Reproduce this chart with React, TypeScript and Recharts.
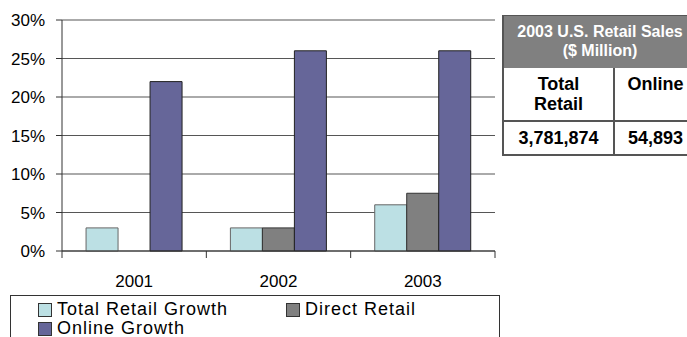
import React from 'react';
import { BarChart, Bar, XAxis, YAxis, CartesianGrid, Legend } from 'recharts';

const years = ['2001', '2002', '2003'];
const totalRetailGrowth = [3, 3, 6];
const directRetail: (number | null)[] = [null, 3, 7.5];
const onlineGrowth = [22, 26, 26];
const yTicks = [0, 5, 10, 15, 20, 25, 30];

const seriesNames = ['Total Retail Growth', 'Direct Retail', 'Online Growth'];
const seriesColors = ['#BCE0E4', '#808080', '#666699'];

const tableTitle = ['2003 U.S. Retail Sales', '($ Million)'];
const tableColumns = [['Total', 'Retail'], ['Online']];
const tableValues = ['3,781,874', '54,893'];

const data = years.map((y, i) => ({
  year: y,
  total: totalRetailGrowth[i],
  direct: directRetail[i],
  online: onlineGrowth[i],
}));

const FONT = '"Liberation Sans", Arial, sans-serif';

const XTick = (props: any) => {
  const { x, y, payload, index, visibleTicksCount } = props;
  const off = payload && payload.offset ? payload.offset : 72;
  const last = index === (visibleTicksCount ? visibleTicksCount - 1 : years.length - 1);
  return (
    <g>
      <line x1={x - off} y1={y} x2={x - off} y2={y + 7} stroke="#333" />
      {last && <line x1={x + off} y1={y} x2={x + off} y2={y + 7} stroke="#333" />}
      <text x={x} y={y + 36} textAnchor="middle" fontSize={17} fontFamily={FONT} fill="#000">
        {payload.value}
      </text>
    </g>
  );
};

const LegendContent = () => (
  <div
    style={{
      width: 490,
      height: 50,
      border: '1px solid #333',
      boxSizing: 'border-box',
      paddingLeft: 27,
      paddingTop: 4,
      display: 'grid',
      gridTemplateColumns: '248px 200px',
      gridAutoRows: '19px',
      fontFamily: FONT,
      fontSize: 18,
      letterSpacing: 1,
      color: '#000',
      background: '#fff',
    }}
  >
    {seriesNames.map((n, i) => (
      <div key={n} style={{ display: 'flex', alignItems: 'center', whiteSpace: 'nowrap', lineHeight: '19px', height: 19 }}>
        <span
          style={{
            display: 'inline-block',
            width: 12,
            height: 12,
            background: seriesColors[i],
            border: '1px solid #333',
            marginRight: 5,
          }}
        />
        {n}
      </div>
    ))}
  </div>
);

const cellBorder = '2px solid #555';

export default function App() {
  return (
    <div style={{ position: 'absolute', left: 0, top: 0, width: 687, height: 337, overflow: 'hidden', background: '#fff' }}>
      <BarChart
        width={687}
        height={337}
        data={data}
        margin={{ top: 20, right: 192, bottom: 56, left: 0 }}
        barCategoryGap="16.67%"
        barGap={0}
      >
        <CartesianGrid vertical={false} stroke="#444" strokeOpacity={0.9} />
        <XAxis
          dataKey="year"
          height={30}
          tickSize={0}
          tickMargin={0}
          tickLine={false}
          axisLine={{ stroke: '#333' }}
          tick={<XTick />}
          interval={0}
        />
        <YAxis
          width={62}
          domain={[0, 30]}
          ticks={yTicks}
          interval={0}
          tickFormatter={(v: number) => `${v}%`}
          tickSize={6}
          tickMargin={11}
          axisLine={{ stroke: '#333' }}
          tickLine={{ stroke: '#333' }}
          tick={{ fontSize: 17, fontFamily: FONT, fill: '#000' }}
        />
        <Legend
          layout="horizontal"
          verticalAlign="middle"
          align="center"
          content={<LegendContent />}
          wrapperStyle={{ position: 'absolute', left: 10, top: 295, width: 490, height: 50 }}
        />
        <Bar dataKey="total" name={seriesNames[0]} fill={seriesColors[0]} stroke="#666" strokeWidth={1} isAnimationActive={false} />
        <Bar dataKey="direct" name={seriesNames[1]} fill={seriesColors[1]} stroke="#333" strokeWidth={1} isAnimationActive={false} />
        <Bar dataKey="online" name={seriesNames[2]} fill={seriesColors[2]} stroke="#222" strokeWidth={1} isAnimationActive={false} />
      </BarChart>

      <div
        style={{
          position: 'absolute',
          left: 502,
          top: 15,
          width: 194,
          fontFamily: FONT,
          fontWeight: 'bold',
          color: '#000',
          borderLeft: cellBorder,
          boxSizing: 'border-box',
        }}
      >
        <div
          style={{
            height: 53,
            background: '#808080',
            color: '#fff',
            fontSize: 16,
            lineHeight: '19px',
            textAlign: 'center',
            paddingTop: 6,
            boxSizing: 'border-box',
            borderTop: '1px solid #555',
          }}
        >
          {tableTitle.map((t) => (
            <div key={t} style={{ whiteSpace: 'nowrap' }}>{t}</div>
          ))}
        </div>
        <div style={{ display: 'flex', height: 54, borderBottom: cellBorder, boxSizing: 'border-box' }}>
          {tableColumns.map((c, i) => (
            <div
              key={i}
              style={{
                width: i === 0 ? 111 : 81,
                borderRight: i === 0 ? cellBorder : 'none',
                textAlign: 'center',
                fontSize: 18,
                lineHeight: '20px',
                paddingTop: 6,
                boxSizing: 'border-box',
              }}
            >
              {c.map((l) => (
                <div key={l}>{l}</div>
              ))}
            </div>
          ))}
        </div>
        <div style={{ display: 'flex', height: 34, borderBottom: cellBorder, boxSizing: 'border-box' }}>
          {tableValues.map((v, i) => (
            <div
              key={v}
              style={{
                width: i === 0 ? 111 : 81,
                borderRight: i === 0 ? cellBorder : 'none',
                textAlign: 'center',
                fontSize: 18,
                lineHeight: '32px',
                boxSizing: 'border-box',
              }}
            >
              {v}
            </div>
          ))}
        </div>
      </div>
    </div>
  );
}
